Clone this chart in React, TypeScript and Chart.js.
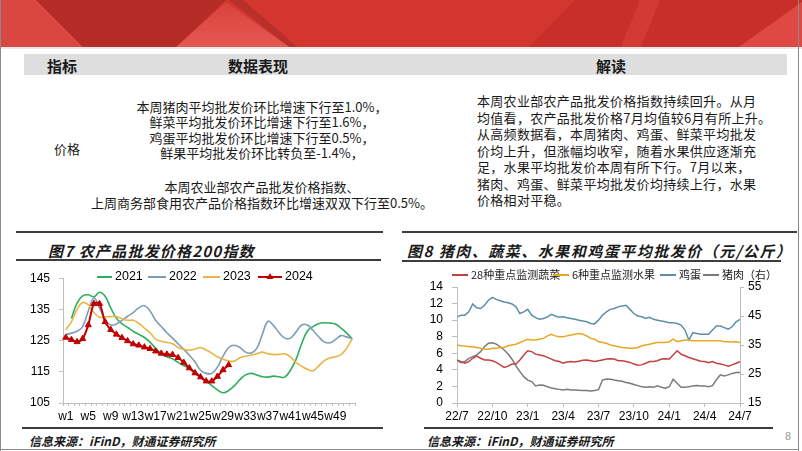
import React, { useEffect, useRef } from 'react';
import { Chart, registerables } from 'chart.js';

Chart.register(...registerables);

// ---------- Figure 7 data ----------
const weekLabels = Array.from({ length: 52 }, (_, i) => `w${i + 1}`);
const index2021 = [null, 132.1, 137.0, 139.3, 139.7, 139.0, 140.5, 139.2, 135.5, 132.2, 130.4, 129.2, 128.0, 127.0, 126.0, 124.5, 122.5, 120.8, 119.8, 119.2, 118.0, 117.0, 116.0, 115.0, 113.5, 112.0, 110.6, 109.2, 108.3, 109.0, 110.5, 112.5, 114.0, 114.5, 114.0, 113.4, 113.3, 113.6, 113.4, 113.3, 115.5, 119.0, 124.0, 128.0, 129.5, 130.4, 130.7, 130.6, 130.3, 129.0, 127.5, 125.6];
const index2022 = [126.9, 127.4, 128.0, 129.5, 134.5, 138.6, 135.5, 131.5, 130.0, 130.3, 131.5, 132.8, 134.0, 135.5, 136.2, 134.5, 131.5, 129.5, 127.5, 125.8, 124.0, 122.2, 120.3, 118.2, 115.5, 114.5, 114.5, 116.5, 120.0, 122.8, 123.5, 122.8, 121.3, 121.0, 122.5, 127.0, 131.2, 129.8, 127.5, 125.8, 125.8, 127.8, 130.0, 130.0, 128.3, 126.3, 124.6, 124.3, 125.3, 126.6, 126.2, 125.6];
const index2023 = [128.5, 131.0, 135.0, 137.2, 136.5, 134.0, 132.5, 132.6, 132.7, 132.7, 132.0, 131.5, 131.5, 130.5, 129.0, 127.5, 125.5, 124.8, 124.4, 124.0, 122.8, 122.2, 121.9, 122.3, 122.8, 122.0, 121.0, 119.8, 119.0, 118.5, 118.4, 119.5, 120.0, 120.3, 120.8, 121.3, 120.8, 120.5, 120.6, 120.8, 119.8, 118.0, 116.8, 115.8, 115.3, 116.8, 118.5, 119.4, 119.8, 120.5, 122.5, 125.6];
const index2024 = [126.0, 125.3, 124.6, 125.6, 130.0, 136.8, 136.8, 131.0, 128.5, 127.0, 125.9, 124.9, 123.9, 123.5, 122.9, 122.4, 121.6, 120.9, 120.6, 120.5, 119.5, 118.0, 116.2, 114.6, 113.3, 112.0, 112.0, 113.5, 115.6, 117.2];

// ---------- Figure 8 data (roughly every 10 days, 22/7 .. 24/7) ----------
const quarterLabels = ['22/7', '22/10', '23/1', '23/4', '23/7', '23/10', '24/1', '24/4', '24/7'];
const vegPrice = [5.2, 5.0, 4.8, 5.0, 5.4, 5.65, 5.4, 5.2, 5.2, 5.1, 4.9, 4.6, 4.3, 4.45, 4.7, 4.7, 5.2, 5.8, 6.3, 6.2, 5.9, 5.8, 5.7, 5.5, 5.3, 5.1, 5.0, 4.8, 4.95, 5.0, 4.95, 5.05, 5.15, 5.2, 5.1, 5.0, 5.1, 5.2, 5.3, 5.35, 5.3, 5.1, 5.1, 5.0, 4.9, 4.7, 4.55, 4.6, 4.8, 5.0, 5.0, 5.1, 5.3, 5.35, 5.3, 5.8, 6.3, 5.9, 5.7, 5.5, 5.35, 5.2, 5.05, 5.0, 4.85, 5.0, 4.8, 4.7, 4.6, 4.45, 4.6, 4.8, 5.0];
const fruitPrice = [7.0, 6.9, 6.88, 6.8, 6.8, 6.7, 6.6, 6.5, 6.5, 6.6, 6.6, 6.7, 6.7, 6.9, 7.0, 7.1, 7.3, 7.5, 7.7, 7.6, 7.6, 7.7, 7.8, 8.1, 8.3, 8.1, 8.0, 8.0, 8.1, 8.2, 8.3, 8.4, 8.3, 8.1, 7.8, 7.7, 7.4, 7.3, 7.2, 7.0, 6.9, 6.8, 6.7, 6.65, 6.6, 6.6, 6.7, 6.9, 7.0, 7.1, 7.2, 7.3, 7.3, 7.3, 7.4, 7.7, 7.4, 7.5, 7.6, 7.6, 7.5, 7.5, 7.5, 7.5, 7.5, 7.5, 7.5, 7.5, 7.4, 7.4, 7.35, 7.4, 7.3];
const eggPrice = [10.4, 10.6, 10.6, 11.0, 11.95, 11.5, 11.4, 11.8, 12.4, 12.75, 12.5, 12.35, 12.2, 12.1, 11.95, 11.6, 10.8, 11.0, 11.3, 10.6, 10.3, 10.1, 10.2, 10.4, 10.7, 10.5, 10.35, 10.4, 10.3, 10.2, 10.1, 10.0, 9.9, 9.8, 9.6, 9.55, 10.0, 10.6, 11.0, 11.3, 11.4, 11.6, 11.7, 11.8, 11.3, 10.8, 10.5, 10.4, 10.2, 10.35, 10.1, 10.0, 9.9, 9.8, 9.7, 9.7, 9.6, 9.4, 8.8, 7.6, 8.5, 8.4, 8.3, 8.3, 8.3, 8.8, 9.3, 9.3, 9.1, 8.9, 9.2, 9.8, 10.1];
const porkPrice = [29.8, 28.9, 29.3, 30.4, 31.0, 31.6, 32.7, 34.4, 35.6, 35.8, 35.3, 34.4, 33.3, 31.9, 30.1, 27.8, 25.8, 24.1, 22.9, 22.4, 20.9, 21.2, 21.1, 20.6, 20.2, 19.9, 19.7, 19.5, 19.7, 19.5, 19.5, 19.4, 19.3, 19.3, 19.1, 19.3, 19.6, 22.9, 23.3, 23.2, 22.9, 22.7, 22.5, 22.1, 21.8, 21.4, 21.0, 20.6, 20.4, 20.6, 20.4, 20.9, 20.4, 20.1, 20.6, 23.2, 21.8, 20.4, 20.4, 20.6, 20.9, 21.0, 20.9, 20.9, 20.6, 21.0, 23.0, 24.7, 24.3, 24.7, 25.2, 25.5, 25.5];

// ---------- text ----------
const dataLines = [
  '本周猪肉平均批发价环比增速下行至1.0%，',
  '鲜菜平均批发价环比增速下行至1.6%，',
  '鸡蛋平均批发价环比增速下行至0.5%，',
  '鲜果平均批发价环比转负至-1.4%，',
  '本周农业部农产品批发价格指数、',
  '上周商务部食用农产品价格指数环比增速双双下行至0.5%。',
];
const readLines = [
  '本周农业部农产品批发价格指数持续回升。从月',
  '均值看，农产品批发价格7月均值较6月有所上升。',
  '从高频数据看，本周猪肉、鸡蛋、鲜菜平均批发',
  '价均上升，但涨幅均收窄，随着水果供应逐渐充',
  '足，水果平均批发价本周有所下行。7月以来，',
  '猪肉、鸡蛋、鲜菜平均批发价均持续上行，水果',
  '价格相对平稳。',
];

const LATIN = "'Liberation Sans', Arial, sans-serif";
const CJK = "'Noto Sans CJK SC', 'Noto Sans', sans-serif";
const AXIS = '#bfbfbf';

Chart.defaults.font.family = LATIN;

const inlineLegend = {
  id: 'inlineLegend',
  afterDraw(chart: any, _args: any, opts: any) {
    if (!opts || !opts.items) return;
    const ctx = chart.ctx;
    ctx.save();
    ctx.font = opts.font;
    ctx.textBaseline = 'middle';
    ctx.textAlign = 'left';
    chart.data.datasets.forEach((ds: any, i: number) => {
      const it = opts.items[i];
      if (!it) return;
      const y = opts.y;
      ctx.strokeStyle = ds.borderColor;
      ctx.lineWidth = opts.lineWidth || 2;
      ctx.beginPath();
      ctx.moveTo(it.x, y);
      ctx.lineTo(it.x + it.w, y);
      ctx.stroke();
      if (ds.pointStyle === 'triangle' && ds.pointRadius > 0) {
        const cx = it.x + it.w / 2;
        const r = ds.pointRadius + 0.5;
        ctx.fillStyle = ds.pointBackgroundColor || ds.borderColor;
        ctx.beginPath();
        ctx.moveTo(cx, y - r);
        ctx.lineTo(cx + r * 0.866, y + r / 2);
        ctx.lineTo(cx - r * 0.866, y + r / 2);
        ctx.closePath();
        ctx.fill();
      }
      ctx.fillStyle = opts.color;
      ctx.fillText(ds.label, it.x + it.w + opts.gap, y);
    });
    ctx.restore();
  },
};

function ChartCanvas(props: { left: number; top: number; width: number; height: number; build: () => any }) {
  const ref = useRef<HTMLCanvasElement | null>(null);
  useEffect(() => {
    if (!ref.current) return;
    const chart = new Chart(ref.current, props.build());
    return () => chart.destroy();
  }, []);
  return (
    <canvas
      ref={ref}
      width={props.width}
      height={props.height}
      style={{ position: 'absolute', left: props.left, top: props.top, width: props.width, height: props.height }}
    />
  );
}

const buildFig7 = () => ({
  type: 'line',
  data: {
    labels: weekLabels,
    datasets: [
      { label: '2021', data: index2021, borderColor: '#2FAE5C', borderWidth: 1.6, pointRadius: 0, tension: 0.4, order: 4 },
      { label: '2022', data: index2022, borderColor: '#7E9DB5', borderWidth: 1.6, pointRadius: 0, tension: 0.4, order: 3 },
      { label: '2023', data: index2023, borderColor: '#E9B544', borderWidth: 1.6, pointRadius: 0, tension: 0.4, order: 2 },
      {
        label: '2024', data: index2024, borderColor: '#C00000', borderWidth: 2, tension: 0.3, order: 1,
        pointStyle: 'triangle', pointRadius: 3.5, pointBackgroundColor: '#C00000', pointBorderColor: '#C00000', pointBorderWidth: 1,
      },
    ],
  },
  options: {
    responsive: false,
    animation: false,
    devicePixelRatio: 1,
    events: [],
    layout: { padding: { top: 11, right: 10, left: 0, bottom: 0 } },
    plugins: {
      legend: { display: false },
      tooltip: { enabled: false },
      inlineLegend: {
        y: 15,
        font: `12.5px ${LATIN}`,
        color: '#000',
        gap: 3,
        lineWidth: 2,
        items: [
          { x: 77, w: 15 },
          { x: 128, w: 18 },
          { x: 183, w: 17 },
          { x: 238, w: 24 },
        ],
      },
    },
    scales: {
      x: {
        type: 'category',
        offset: true,
        grid: { display: true, drawOnChartArea: false, offset: true, tickLength: 3, color: AXIS },
        border: { color: AXIS },
        ticks: {
          autoSkip: false, maxRotation: 0, minRotation: 0, padding: 3, color: '#000', font: { size: 12 },
          callback: (_v: any, i: number) => (i % 4 === 0 ? weekLabels[i] : ''),
        },
        afterFit: (s: any) => { s.height = 22; },
      },
      y: {
        min: 105, max: 145,
        grid: { drawOnChartArea: false, tickLength: 4, color: AXIS },
        border: { color: AXIS },
        ticks: { stepSize: 10, autoSkip: false, padding: 9, color: '#000', font: { size: 12 } },
        afterFit: (s: any) => { s.width = 43; },
      },
    },
  },
  plugins: [inlineLegend],
});

const toXY = (arr: number[]) => arr.map((y, i) => ({ x: i, y }));

const buildFig8 = () => ({
  type: 'line',
  data: {
    datasets: [
      { label: '28种重点监测蔬菜', data: toXY(vegPrice), borderColor: '#C4403E', borderWidth: 1.5, pointRadius: 0, yAxisID: 'y' },
      { label: '6种重点监测水果', data: toXY(fruitPrice), borderColor: '#E6A823', borderWidth: 1.5, pointRadius: 0, yAxisID: 'y' },
      { label: '鸡蛋', data: toXY(eggPrice), borderColor: '#5C8EA8', borderWidth: 1.5, pointRadius: 0, yAxisID: 'y' },
      { label: '猪肉（右）', data: toXY(porkPrice), borderColor: '#7A7A7A', borderWidth: 1.5, pointRadius: 0, yAxisID: 'y1' },
    ],
  },
  options: {
    responsive: false,
    animation: false,
    devicePixelRatio: 1,
    events: [],
    layout: { padding: { top: 25, right: 20, left: 0, bottom: 0 } },
    plugins: {
      legend: { display: false },
      tooltip: { enabled: false },
      inlineLegend: {
        y: 13,
        font: `11px ${CJK}`,
        color: '#222',
        gap: 3,
        lineWidth: 2,
        items: [
          { x: 52, w: 16 },
          { x: 153, w: 16 },
          { x: 260, w: 16 },
          { x: 303, w: 16 },
        ],
      },
    },
    scales: {
      x: {
        type: 'linear', min: 0, max: (quarterLabels.length - 1) * 9,
        grid: { drawOnChartArea: false, tickLength: 4, color: AXIS },
        border: { color: AXIS },
        ticks: {
          stepSize: 9, autoSkip: false, maxRotation: 0, minRotation: 0, padding: 2, color: '#000', font: { size: 12 },
          callback: (v: any) => quarterLabels[Math.round(Number(v) / 9)] ?? '',
        },
        afterFit: (s: any) => { s.height = 22; },
      },
      y: {
        position: 'left', min: 0, max: 14,
        grid: { drawOnChartArea: false, tickLength: 5, color: AXIS },
        border: { color: AXIS },
        ticks: { stepSize: 2, autoSkip: false, padding: 9, color: '#000', font: { size: 12 } },
        afterFit: (s: any) => { s.width = 57; },
      },
      y1: {
        position: 'right', min: 15, max: 55,
        grid: { drawOnChartArea: false, tickLength: 4, color: AXIS },
        border: { color: AXIS },
        ticks: { stepSize: 10, autoSkip: false, padding: 4, color: '#000', font: { size: 12 } },
        afterFit: (s: any) => { s.width = 40; },
      },
    },
  },
  plugins: [inlineLegend],
});

function Txt(p: {
  x: number; y: number; size: number; text: string; w?: number; align?: 'left' | 'center';
  bold?: boolean; italic?: boolean; ls?: number; color?: string; font?: string;
}) {
  const lh = p.size + 6;
  return (
    <div
      style={{
        position: 'absolute',
        left: p.x,
        top: p.y - lh / 2,
        width: p.w,
        height: lh,
        lineHeight: `${lh}px`,
        fontSize: p.size,
        fontFamily: p.font || CJK,
        fontWeight: p.bold ? 700 : 400,
        fontStyle: p.italic ? 'italic' : 'normal',
        letterSpacing: p.ls ? `${p.ls}px` : undefined,
        color: p.color || '#1a1a1a',
        textAlign: p.align || 'left',
        whiteSpace: 'nowrap',
      }}
    >
      {p.text}
    </div>
  );
}

function HLine(p: { x1: number; x2: number; y: number; h?: number; color?: string }) {
  const h = p.h || 2;
  return (
    <div style={{ position: 'absolute', left: p.x1, top: p.y - h / 2, width: p.x2 - p.x1, height: h, background: p.color || '#3d3d3d' }} />
  );
}

function Header() {
  return (
    <svg width={802} height={49} style={{ position: 'absolute', left: 0, top: 0 }}>
      <defs>
        <linearGradient id="lt" x1="0" y1="0" x2="0" y2="1">
          <stop offset="0" stopColor="#D9423C" />
          <stop offset="1" stopColor="#E55A52" />
        </linearGradient>
      </defs>
      <rect x={0} y={0} width={802} height={49} fill="#D3362F" />
      <polygon points="0,0 36,0 85,49 0,49" fill="#DA4640" />
      <polygon points="36,0 226,0 174,49 85,49" fill="#B52C27" />
      <polygon points="226,2 174,49 292,49" fill="url(#lt)" />
      <polygon points="229,0 243,0 300,49 292,49" fill="#B9302B" />
      <polygon points="575,0 802,0 802,49 527,49" fill="#C92F2A" />
      <polygon points="640,0 660,0 640,49 620,49" fill="#D23A34" />
      <polygon points="802,2 802,49 736,49" fill="#DE4A43" />
      <rect x={0} y={47} width={802} height={2} fill="#E8E8E8" />
    </svg>
  );
}

export default function App() {
  const midY = [106, 121, 137, 152, 186, 202];
  const rightY = [100, 117, 133, 150, 166, 183, 199];
  return (
    <div style={{ position: 'absolute', left: 0, top: 0, width: 802, height: 451, overflow: 'hidden', background: '#fff' }}>
      <Header />
      {/* frame */}
      <div style={{ position: 'absolute', left: 0, top: 0, width: 1, height: 451, background: '#8a8a8a' }} />
      <div style={{ position: 'absolute', left: 798, top: 0, width: 1, height: 451, background: '#8a8a8a' }} />
      <div style={{ position: 'absolute', left: 0, top: 449, width: 799, height: 1, background: '#8a8a8a' }} />

      {/* table header */}
      <div style={{ position: 'absolute', left: 24, top: 54, width: 763, height: 21, background: '#dedede' }} />
      <Txt x={22} w={80} align="center" y={65} size={15} bold text="指标" />
      <Txt x={198} w={120} align="center" y={65} size={15} bold text="数据表现" />
      <Txt x={571} w={80} align="center" y={65} size={15} bold text="解读" />

      <Txt x={37} w={60} align="center" y={148} size={13} text="价格" />
      {dataLines.map((t, i) => (
        <Txt key={i} x={82} w={360} align="center" y={midY[i]} size={13} text={t} />
      ))}
      {readLines.map((t, i) => (
        <Txt key={i} x={477} y={rightY[i]} size={13} ls={0.3} text={t} />
      ))}

      {/* figure 7 frame */}
      <HLine x1={16} x2={383} y={232} />
      <Txt x={48} y={250} size={15} bold italic ls={1.2} text="图7 农产品批发价格200指数" />
      <HLine x1={16} x2={381} y={260} h={1.5} />
      <ChartCanvas left={20} top={262} width={345} height={163} build={buildFig7} />
      <HLine x1={22} x2={383} y={428} />
      <Txt x={29} y={441} size={12} bold italic text="信息来源：iFinD，财通证券研究所" />

      {/* figure 8 frame */}
      <HLine x1={402} x2={797} y={232} />
      <Txt x={407} y={250} size={15} bold italic ls={1.5} text="图8 猪肉、蔬菜、水果和鸡蛋平均批发价（元/公斤）" />
      <HLine x1={402} x2={781} y={261} h={1.5} />
      <ChartCanvas left={400} top={262} width={400} height={163} build={buildFig8} />
      <HLine x1={424} x2={773} y={428} />
      <Txt x={427} y={441} size={12} bold italic text="信息来源：iFinD，财通证券研究所" />

      <Txt x={785} y={436} size={11} color="#9a9a9a" font={LATIN} text="8" />
    </div>
  );
}
